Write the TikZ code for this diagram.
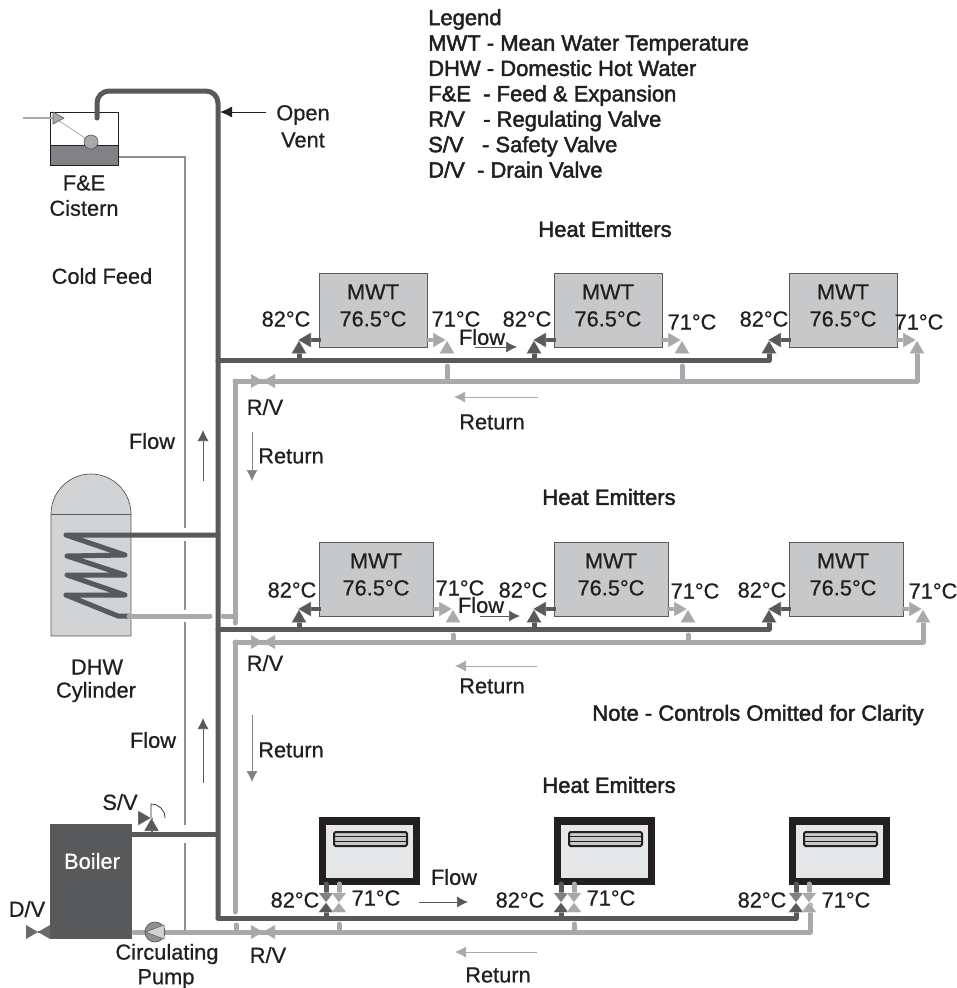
\documentclass[tikz,border=0pt]{standalone}
\usepackage{fontspec}
\setmainfont{Liberation Sans}
\usepackage{xcolor}
\definecolor{ink}{RGB}{35, 31, 32}
\definecolor{flowgrey}{RGB}{88, 89, 91}
\definecolor{returngrey}{RGB}{167, 169, 172}
\definecolor{radgrey}{RGB}{199, 200, 202}
\definecolor{tankgrey}{RGB}{209, 211, 212}
\definecolor{panelgrey}{RGB}{230, 231, 232}
\definecolor{watergrey}{RGB}{128, 130, 133}
\usepackage{tikz}
\usetikzlibrary{arrows.meta,positioning,calc}

\begin{document}
\begin{tikzpicture}[x=1pt, y=-1pt,
  every node/.style={font=\fontsize{21.8}{27}\selectfont\special{pdf:code 2 Tr 0.15 w}, text=ink, inner sep=0pt, align=center},
  heavy/.style={font=\fontsize{22}{25.4}\selectfont\special{pdf:code 2 Tr 0.45 w}},
  radbox/.style={draw=flowgrey, fill=radgrey, line width=0.8pt, anchor=north west, minimum height=74pt},
  panelframe/.style={fill=ink, anchor=north west, minimum width=101pt, minimum height=68pt},
  panelface/.style={fill=panelgrey, anchor=north west, minimum width=87pt, minimum height=53pt},
  panelgrille/.style={draw=ink, fill=radgrey, line width=2pt, rounded corners=1.5pt, anchor=north west, minimum width=73pt, minimum height=14pt},
  flowpipe/.style={draw=flowgrey, line width=5pt, line cap=round, line join=round},
  returnpipe/.style={draw=returngrey, line width=5pt, line cap=round, line join=round},
  feedpipe/.style={draw=returngrey!85!black, line width=2.8pt},
  arrow/.style={-{Latex[length=11pt,width=11pt]}, line width=0.7pt},
  tip/.pic={\path[pic actions] (0,0) -- (13,-7.5) -- (13,7.5) -- cycle;},
  gate/.pic={\path[pic actions] (-12,-7) -- (12,7) -- (12,-7) -- (-12,7) -- cycle;},
  darktip/.style={fill=flowgrey, draw=white, line width=0.15pt},
  midtip/.style={fill=flowgrey!75, draw=white, line width=0.15pt},
  lighttip/.style={fill=returngrey, draw=white, line width=0.15pt}
]
\useasboundingbox (0,0) rectangle (956,988);

% Cistern and open vent
\node[draw=ink, fill=white, line width=0.7pt, anchor=north west, minimum width=68pt, minimum height=53pt] (cistern) at (50,112) {};
\node[draw=ink, fill=watergrey, line width=0.7pt, anchor=north west, minimum width=68pt, minimum height=20pt] (water) at (50,145) {};
\node[circle, draw=flowgrey, fill=returngrey, line width=0.6pt, minimum size=14pt] (ball) at (91,142) {};
\coordinate (inlet) at (23,118);
\coordinate (ballcock) at (55,118);
\draw[returngrey, line width=2.6pt] (inlet) -- (ballcock);
\draw[returngrey, line width=0.7pt] (ballcock) -- (ball);
\fill[returngrey, draw=flowgrey, line width=0.6pt] (53,112) -- (64,118) -- (53,124) -- cycle;

\coordinate (ventfoot) at (97,118);
\coordinate (ventmain) at (218,91);
\coordinate (mainfoot) at (218,918);
\draw[flowpipe, rounded corners=12pt] (ventfoot) |- (ventmain) -- (mainfoot);
\coordinate (ventlabel) at (266,112);
\draw[arrow, draw=ink, -{Latex[length=12pt,width=11pt]}, line width=0.8pt, fill=ink] (ventlabel) -- (220,112);

% Cold feed, broken where the flow pipes pass
\coordinate (feedtop) at (185,157);
\coordinate (feedgapa) at (185,528);
\coordinate (feedgapb) at (185,541);
\coordinate (feedgapc) at (185,610);
\coordinate (feedgapd) at (185,622);
\coordinate (feedgape) at (185,825);
\coordinate (feedgapf) at (185,843);
\coordinate (feedfoot) at (185,932);
\draw[feedpipe] (water.east |- feedtop) -- (feedtop) -- (feedgapa);
\draw[feedpipe] (feedgapb) -- (feedgapc);
\draw[feedpipe] (feedgapd) -- (feedgape);
\draw[feedpipe] (feedgapf) -- (feedfoot);

% DHW cylinder
\fill[tankgrey, draw=flowgrey, line width=0.7pt] (51,514) .. controls (51,492) and (69,474) .. (91,474) .. controls (113,474) and (131,492) .. (131,514) -- (131,636) -- (51,636) -- cycle;
\draw[flowgrey, line width=0.7pt] (51,514) -- (131,514);
\coordinate (coiltop) at (218,535);
\coordinate (coilfoot) at (129,616);
\draw[flowpipe] (coiltop) -- (66,535) -- (125,555) -- (67,556) -- (125,575) -- (67,575) -- (125,595) -- (66,595) -- (118,616) -- (coilfoot);
\coordinate (coilgapa) at (210,616);
\coordinate (coilgapb) at (223,616);
\coordinate (coiljoin) at (235,616);
\draw[returnpipe] (coilfoot) -- (coilgapa);
\draw[returnpipe] (coilgapb) -- (coiljoin);

% Boiler, safety valve, drain valve and pump
\node[draw=flowgrey, fill=flowgrey, anchor=north west, minimum width=81pt, minimum height=114pt] (boiler) at (50,824) {};
\node[text=white] (boilername) at (92,861) {Boiler};
\coordinate (boilerflow) at (218,834);
\draw[flowpipe, line cap=butt] (boiler.east |- boilerflow) -- (boilerflow);
\coordinate (safety) at (152,818);
\draw[flowgrey, line width=2pt] (safety) -- (safety |- boilerflow);
\draw[ink, line width=0.7pt] (151,818) -- (151,804) .. controls (159,804) and (165,810) .. (165,818);
\pic[darktip, rotate=180] at (151,818) {tip};
\pic[darktip, rotate=-90] at (151.5,818) {tip};

\coordinate (drain) at (38,932);
\draw[flowgrey, line width=1.5pt] (drain) -- (boiler.west |- drain);
\pic[fill=flowgrey!90] at (38,932) {gate};

\coordinate (boilerret) at (134,932);
\coordinate (lastret) at (810,932);
\coordinate (lastup) at (810,905);
\draw[returnpipe] (lastup) -- (lastret) -- (boilerret);
\node[circle, draw=flowgrey, fill=returngrey!85!black, line width=0.7pt, minimum size=20pt] (pump) at (155,932) {};
\fill[tankgrey, draw=flowgrey, line width=0.5pt] (145.5,932) -- (164,925) -- (164,939) -- cycle;

% Return risers
\draw[returnpipe] (236,925) -- (236,932);
\pic[lighttip, draw=none] at (263,932) {gate};

% Radiator rows, two of them alike
\foreach \row/\ytop/\w/\fy/\ry in {a/273/108/360/381, b/542/114/629/642} {
  \foreach \col/\lft in {1/319, 2/554, 3/789} {
    \coordinate (lv\row\col) at (\lft-20,\ytop+67);
    \coordinate (rv\row\col) at (\lft+\w+20,\ytop+67);
    \node[radbox, minimum width=\w pt] (rad\row\col) at (\lft,\ytop) {};
    \draw[flowpipe, line width=4.5pt, line cap=butt] ($(lv\row\col)+(8,0)$) -- ([xshift=2pt]rad\row\col.west |- lv\row\col);
    \draw[returnpipe, line width=4.5pt, line cap=butt] ($(rv\row\col)+(-8,0)$) -- ([xshift=-2pt]rad\row\col.east |- rv\row\col);
  }
  \coordinate (flow\row) at (218,\fy);
  \coordinate (ret\row) at (235,\ry);
  \draw[flowpipe] (flow\row) -- (lv\row3 |- flow\row) -- ($(lv\row3)+(0,8)$);
  \draw[flowpipe] ($(lv\row1)+(0,8)$) -- (lv\row1 |- flow\row);
  \draw[flowpipe] ($(lv\row2)+(0,8)$) -- (lv\row2 |- flow\row);
  \draw[returnpipe] ($(rv\row3)+(0,8)$) -- (rv\row3 |- ret\row) -- (ret\row);
  \foreach \col in {1,2} {
    \coordinate (rs\row\col) at ($(rv\row\col |- flow\row)+(0,6)$);
    \draw[returnpipe] (rs\row\col) -- (rs\row\col |- ret\row);
  }
  \foreach \col in {1,2,3} {
    \pic[darktip, rotate=-90] at ($(lv\row\col)+(0,0.5)$) {tip};
    \pic[darktip] at ($(lv\row\col)+(-1,0)$) {tip};
    \pic[lighttip, rotate=-90] at ($(rv\row\col)+(0,0.5)$) {tip};
    \pic[lighttip, rotate=180] at ($(rv\row\col)+(-1,0)$) {tip};
  }
  \pic[lighttip, draw=none] at (263,\ry) {gate};
}
\coordinate (rislow) at (235,623);
\coordinate (rismid) at (235,912);
\draw[returnpipe] (reta) -- (rislow);
\draw[returnpipe] (retb) -- (rismid);

% Panel row at the bottom
\draw[flowpipe] (mainfoot) -- (796,918) -- (796,908);
\foreach \col/\lft in {1/319, 2/554, 3/789} {
  \node[panelframe] (panel\col) at (\lft,817) {};
  \node[panelface] (face\col) at (\lft+7,825) {};
  \node[panelgrille] (grille\col) at (\lft+14,831) {};
  \draw[ink, line width=0.8pt] ($(grille\col.west)+(0,-2.5)$) -- ($(grille\col.east)+(0,-2.5)$);
  \draw[ink, line width=0.8pt] ($(grille\col.west)+(0,2.5)$) -- ($(grille\col.east)+(0,2.5)$);
  \coordinate (pf\col) at (\lft+7,884);
  \coordinate (pr\col) at (\lft+20,884);
  \draw[flowpipe] (pf\col) -- (\lft+7,895);
  \draw[flowpipe] (\lft+7,910) -- (pf\col |- mainfoot);
  \draw[returnpipe] (pr\col) -- (\lft+20,895);
  \pic[midtip, rotate=90, xscale=.75] at ($(pf\col)+(0,18.5)$) {tip};
  \pic[darktip, rotate=-90, xscale=.75] at ($(pf\col)+(0,18.5)$) {tip};
  \pic[lighttip, rotate=90, xscale=.75] at ($(pr\col)+(0,18.5)$) {tip};
  \pic[lighttip, rotate=-90, xscale=.75] at ($(pr\col)+(0,18.5)$) {tip};
}
\draw[returnpipe] (339,924) -- (339,932);
\draw[returnpipe] (574,924) -- (574,932);

% Direction arrows
\draw[arrow, draw=flowgrey, fill=flowgrey] (475,347) -- (517,347);
\draw[arrow, draw=flowgrey, fill=flowgrey] (480,616) -- (520,616);
\draw[arrow, draw=flowgrey, fill=flowgrey] (419,902) -- (468,902);
\draw[arrow, draw=returngrey, fill=returngrey] (538,397) -- (454,397);
\draw[arrow, draw=returngrey, fill=returngrey] (537,666) -- (455,666);
\draw[arrow, draw=returngrey, fill=returngrey] (537,952) -- (455,952);
\draw[arrow, draw=flowgrey, fill=flowgrey] (203,481) -- (203,430);
\draw[arrow, draw=flowgrey, fill=flowgrey] (203,783) -- (203,718);
\draw[arrow, draw=watergrey, fill=watergrey] (252,432) -- (252,481);
\draw[arrow, draw=watergrey, fill=watergrey] (252,715) -- (252,782);

% Radiator figures
\foreach \name/\px/\py in {a/373/305.5, b/608/305.5, c/843/305.5, d/376/574.5, e/611/574.5, f/843/574.5} {
  \node (mwt\name) at (\px,\py) {MWT\\76.5°C};
}
\foreach \name/\px/\py in {a/286/319, b/527/319, c/764/319, d/292/590, e/523/590, f/762/590, g/295/900, h/520/900, i/762/900} {
  \node (hot\name) at (\px,\py) {82°C};
}
\foreach \name/\px/\py in {a/456/319, b/692/322, c/919/322, d/460/588, e/695/591, f/933/591, g/376/898, h/611/898, i/846/900} {
  \node (cool\name) at (\px,\py) {71°C};
}

% Labels
\node[heavy, anchor=north west, align=left] (legend) at (428,9) {Legend\\MWT - Mean Water Temperature\\DHW - Domestic Hot Water\\F\&E\ \ - Feed \& Expansion\\R/V\ \ \ - Regulating Valve\\S/V\ \ \ - Safety Valve\\D/V\ \ - Drain Valve};
\node[heavy] (rowtitlea) at (605,229) {Heat Emitters};
\node[heavy] (rowtitleb) at (609,497) {Heat Emitters};
\node[heavy] (rowtitlec) at (609,785) {Heat Emitters};
\node[heavy] (note) at (758,715) {Note - Controls Omitted for Clarity};
\node (open) at (303,115) {Open};
\node (vent) at (303,140) {Vent};
\node (fande) at (84,183) {F\&E};
\node (cisternname) at (84,208) {Cistern};
\node (coldfeed) at (102,276) {Cold Feed};
\node (dhw) at (97,667) {DHW};
\node (cylinder) at (96,692) {Cylinder};
\node (flowup) at (152,441) {Flow};
\node (flowlow) at (153,740) {Flow};
\node (flowa) at (482,337) {Flow};
\node (flowb) at (481,605) {Flow};
\node (flowc) at (454,877) {Flow};
\node (returna) at (492,422) {Return};
\node (returnb) at (492,686) {Return};
\node (returnc) at (498,975) {Return};
\node (returnup) at (291,456) {Return};
\node (returnlow) at (291,750) {Return};
\node (rva) at (265,407) {R/V};
\node (rvb) at (265,663) {R/V};
\node (rvc) at (268,955) {R/V};
\node (sv) at (120,802) {S/V};
\node (dv) at (27,909) {D/V};
\node (circulating) at (167,954) {Circulating};
\node (pumpname) at (166,979) {Pump};
\end{tikzpicture}
\end{document}
